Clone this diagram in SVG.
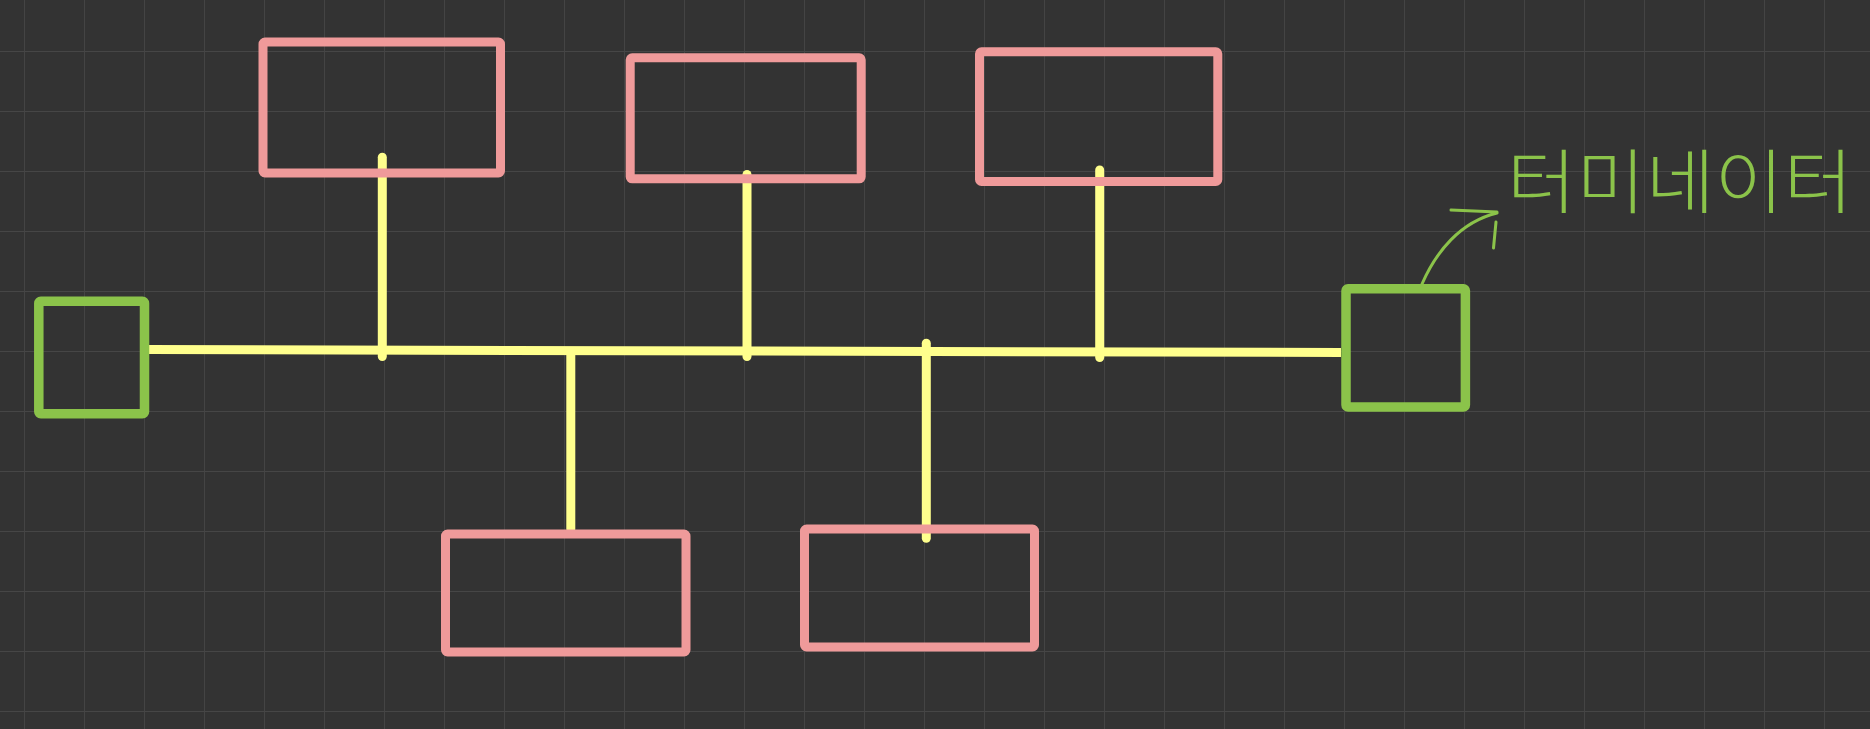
<svg xmlns="http://www.w3.org/2000/svg" width="1870" height="729" viewBox="0 0 1870 729">
<style>
.pink{fill:none;stroke:#EF9A9A;stroke-width:9;stroke-linejoin:round}
.green{fill:none;stroke:#8BC34A;stroke-width:9.5;stroke-linejoin:round}
.bus{stroke:#FFFF8D;stroke-width:9;fill:none}
.drop{stroke:#FFFF8D;stroke-width:9;stroke-linecap:round;fill:none}
.hand{fill:none;stroke:#8BC34A;stroke-width:3;stroke-linecap:round}
.label{fill:#8BC34A;font-family:"Noto Sans CJK KR","Noto Sans",sans-serif;font-size:70px;font-weight:300}
</style>
<defs>
<pattern id="grid" x="24" y="51" width="60" height="60" patternUnits="userSpaceOnUse">
<path d="M0,0 V60 M0,0 H60" stroke="#464646" stroke-width="1.8" fill="none"/>
</pattern>
</defs>
<rect width="1870" height="729" fill="#333333"/>
<rect width="1870" height="729" fill="url(#grid)"/>

<g id="connectors">
<path class="bus" d="M149,349.5 L1341,352.5"/>
<path class="drop" d="M382.3,157.3 V356.5"/>
<path class="drop" d="M747,174.5 V356.5"/>
<path class="drop" d="M1099.7,170 V357.5"/>
<path class="drop" d="M570.8,352 V529"/>
<path class="drop" d="M926.3,343.3 V538.3"/>
</g>

<g id="terminator-left"><rect class="green" x="38.8" y="301.2" width="105.7" height="112.6" rx="2"/></g>
<g id="terminator-right"><rect class="green" x="1346" y="288.7" width="119.4" height="118.3" rx="2"/></g>

<g id="node-top-1"><rect class="pink" x="263" y="42" width="237.5" height="131" rx="2"/></g>
<g id="node-top-2"><rect class="pink" x="630.2" y="57.8" width="231" height="121" rx="2"/></g>
<g id="node-top-3"><rect class="pink" x="979.5" y="51.8" width="238.3" height="129.7" rx="2"/></g>
<g id="node-bottom-1"><rect class="pink" x="445.5" y="534" width="240.5" height="118" rx="2"/></g>
<g id="node-bottom-2"><rect class="pink" x="804.5" y="529" width="230" height="118" rx="2"/></g>

<g id="annotation">
<path class="hand" d="M1422,284 C1436,252 1460,222 1497,213"/>
<path class="hand" d="M1451,210 L1497,212"/>
<path class="hand" d="M1496,222 L1493.5,248"/>
<text class="label" x="1507" y="208" textLength="346" lengthAdjust="spacingAndGlyphs">터미네이터</text>
</g>
</svg>
